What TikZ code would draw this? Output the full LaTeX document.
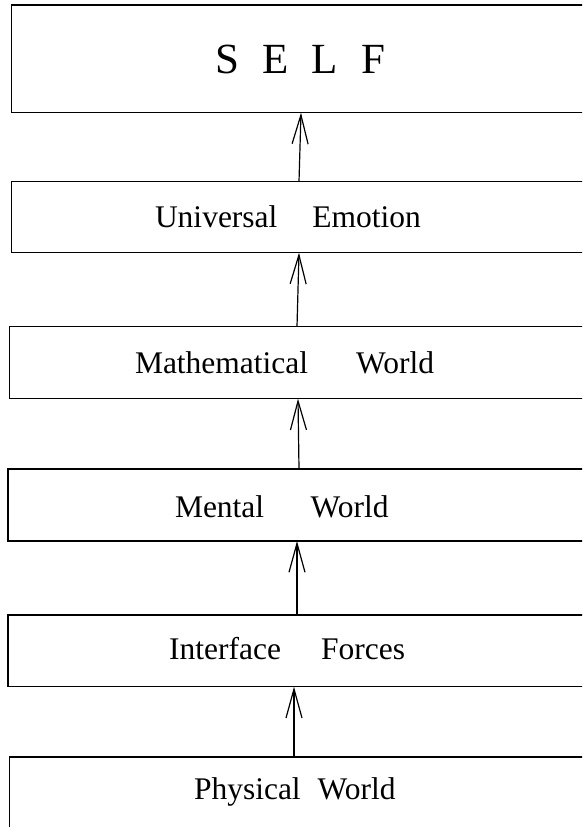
\documentclass[tikz,border=0pt]{standalone}
\usepackage{fontspec}
\setmainfont{Liberation Serif}
\usetikzlibrary{arrows.meta}
\begin{document}
\begin{tikzpicture}[x=1pt,y=-1pt,
  layerbox/.style={draw, line width=1.5pt, rectangle, inner sep=0pt, outer sep=0pt, anchor=north west},
  lbl/.style={anchor=base west, inner sep=0pt, outer sep=0pt, font=\fontsize{31.5}{36}\selectfont},
  uparrow/.style={line width=1.2pt, -{Straight Barb[length=29pt, width=16pt, line width=1.2pt]}}]
\useasboundingbox (0,0) rectangle (582,827);
\clip (0,0) rectangle (582,827);
% boxes (their right sides run past the page edge)
\node[layerbox, minimum width=608.3pt, minimum height=107.7pt] (self) at (11.7,5) {};
\node[layerbox, minimum width=608.3pt, minimum height=71pt] (ue) at (11.7,181.7) {};
\node[layerbox, minimum width=610.5pt, minimum height=72pt] (math) at (9.5,326.7) {};
\node[layerbox, minimum width=612pt, minimum height=72pt] (mental) at (8,469) {};
\node[layerbox, minimum width=612pt, minimum height=71.7pt] (if) at (8,615) {};
\node[layerbox, minimum width=610.3pt, minimum height=100pt] (pw) at (9.7,757) {};
% labels
\node[lbl, font=\fontsize{43}{50}\selectfont] (tself) at (215,73.3) {S\hspace{23.3pt}E\hspace{23.3pt}L\hspace{23.3pt}F};
\node[lbl] (tue) at (155,227.3) {Universal\hspace{35pt}Emotion};
\node[lbl] (tmath) at (135,373.3) {Mathematical\hspace{48pt}World};
\node[lbl] (tmental) at (175,517.3) {Mental\hspace{46.4pt}World};
\node[lbl] (tif) at (169.2,659.3) {Interface\hspace{40pt}Forces};
\node[lbl] (tpw) at (194,799.3) {Physical\hspace{17pt}World};
% x positions of the connectors
\coordinate (a1) at (299,0);  \coordinate (b1) at (301,0);
\coordinate (a2) at (297,0);  \coordinate (b2) at (299,0);
\coordinate (a3) at (299,0);  \coordinate (b3) at (298,0);
\coordinate (a4) at (297,0);  \coordinate (b4) at (297,0);
\coordinate (a5) at (294,0);  \coordinate (b5) at (294,0);
% connectors
\draw[uparrow] (ue.north -| a1) -- (self.south -| b1);
\draw[uparrow] (math.north -| a2) -- (ue.south -| b2);
\draw[uparrow] (mental.north -| a3) -- (math.south -| b3);
\draw[uparrow] (if.north -| a4) -- (mental.south -| b4);
\draw[uparrow] (pw.north -| a5) -- (if.south -| b5);
\end{tikzpicture}
\end{document}
